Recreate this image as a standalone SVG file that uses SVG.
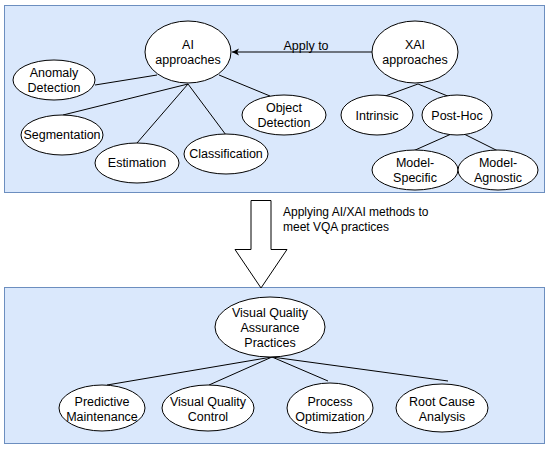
<svg xmlns="http://www.w3.org/2000/svg" width="550" height="451" viewBox="0 0 550 451">
<style>
.panel{fill:#dae8fc;stroke:#6c8ebf;stroke-width:1}
.node ellipse{fill:#ffffff;stroke:#000000;stroke-width:1}
text{font-family:"Liberation Sans",Arial,sans-serif;font-size:12.5px;fill:#000000;text-anchor:middle}
.edge{stroke:#000000;stroke-width:1;fill:none}
.lbl{text-anchor:start;font-size:12px}
</style>
<defs>
<marker id="ah" markerWidth="8" markerHeight="8" refX="7" refY="4" orient="auto" markerUnits="userSpaceOnUse">
<path d="M0,0.5 L7,4 L0,7.5 L1.8,4 Z" fill="#000000"/>
</marker>
</defs>
<rect class="panel" x="4.5" y="5.5" width="540" height="187"/>
<rect class="panel" x="4.5" y="287.5" width="540" height="156"/>
<g id="connectors">
<line class="edge" x1="372" y1="52" x2="232" y2="52" marker-end="url(#ah)"/>
<text x="306" y="49.5">Apply to</text>
<line class="edge" x1="157" y1="75" x2="95" y2="85"/>
<line class="edge" x1="188" y1="84" x2="63" y2="115"/>
<line class="edge" x1="188" y1="84" x2="137" y2="143"/>
<line class="edge" x1="188" y1="84" x2="226" y2="135"/>
<line class="edge" x1="219" y1="75" x2="270" y2="96"/>
<line class="edge" x1="418" y1="84" x2="377" y2="99"/>
<line class="edge" x1="418" y1="84" x2="455" y2="99"/>
<line class="edge" x1="458" y1="131" x2="413" y2="151"/>
<line class="edge" x1="458" y1="131" x2="498" y2="151"/>
<line class="edge" x1="272" y1="357" x2="107" y2="385"/>
<line class="edge" x1="272" y1="357" x2="209" y2="385"/>
<line class="edge" x1="272" y1="357" x2="328" y2="381"/>
<line class="edge" x1="272" y1="357" x2="448" y2="381"/>
<path class="edge" d="M251,200.5 L271,200.5 L271,249.5 L287,249.5 L261,288 L235,249.5 L251,249.5 Z" fill="#ffffff" style="fill:#ffffff"/>
<text class="lbl" x="283" y="216">Applying AI/XAI methods to</text>
<text class="lbl" x="283" y="231">meet VQA practices</text>
</g>
<g id="ai" class="node"><ellipse cx="188" cy="52" rx="43" ry="31"/><text x="188" y="49">AI</text><text x="188" y="64">approaches</text></g>
<g id="xai" class="node"><ellipse cx="415" cy="52" rx="43" ry="31"/><text x="415" y="49">XAI</text><text x="415" y="64">approaches</text></g>
<g id="anomaly" class="node"><ellipse cx="54" cy="80" rx="41" ry="20"/><text x="54" y="77">Anomaly</text><text x="54" y="92">Detection</text></g>
<g id="segmentation" class="node"><ellipse cx="62" cy="135" rx="41" ry="20"/><text x="62" y="139">Segmentation</text></g>
<g id="estimation" class="node"><ellipse cx="137" cy="163" rx="42" ry="20"/><text x="137" y="167">Estimation</text></g>
<g id="classification" class="node"><ellipse cx="226" cy="154" rx="42" ry="20"/><text x="226" y="158">Classification</text></g>
<g id="object" class="node"><ellipse cx="284" cy="115" rx="42" ry="20"/><text x="284" y="112">Object</text><text x="284" y="127">Detection</text></g>
<g id="intrinsic" class="node"><ellipse cx="377" cy="115" rx="36" ry="20"/><text x="377" y="119.5">Intrinsic</text></g>
<g id="posthoc" class="node"><ellipse cx="457" cy="115" rx="35" ry="20"/><text x="457" y="119.5">Post-Hoc</text></g>
<g id="modelspecific" class="node"><ellipse cx="415" cy="170" rx="43" ry="20"/><text x="415" y="167">Model-</text><text x="415" y="182">Specific</text></g>
<g id="modelagnostic" class="node"><ellipse cx="498" cy="170" rx="40" ry="20"/><text x="498" y="167">Model-</text><text x="498" y="182">Agnostic</text></g>
<g id="vqa" class="node"><ellipse cx="270" cy="327" rx="55" ry="30"/><text x="270" y="316.5">Visual Quality</text><text x="270" y="331.5">Assurance</text><text x="270" y="346.5">Practices</text></g>
<g id="predictive" class="node"><ellipse cx="102" cy="408" rx="43" ry="23"/><text x="102" y="406">Predictive</text><text x="102" y="421">Maintenance</text></g>
<g id="vqc" class="node"><ellipse cx="208" cy="408" rx="46" ry="23"/><text x="208" y="406">Visual Quality</text><text x="208" y="421">Control</text></g>
<g id="process" class="node"><ellipse cx="330" cy="408" rx="43" ry="25"/><text x="330" y="406">Process</text><text x="330" y="421">Optimization</text></g>
<g id="rootcause" class="node"><ellipse cx="442" cy="408" rx="46" ry="24"/><text x="442" y="406">Root Cause</text><text x="442" y="421">Analysis</text></g>
</svg>
